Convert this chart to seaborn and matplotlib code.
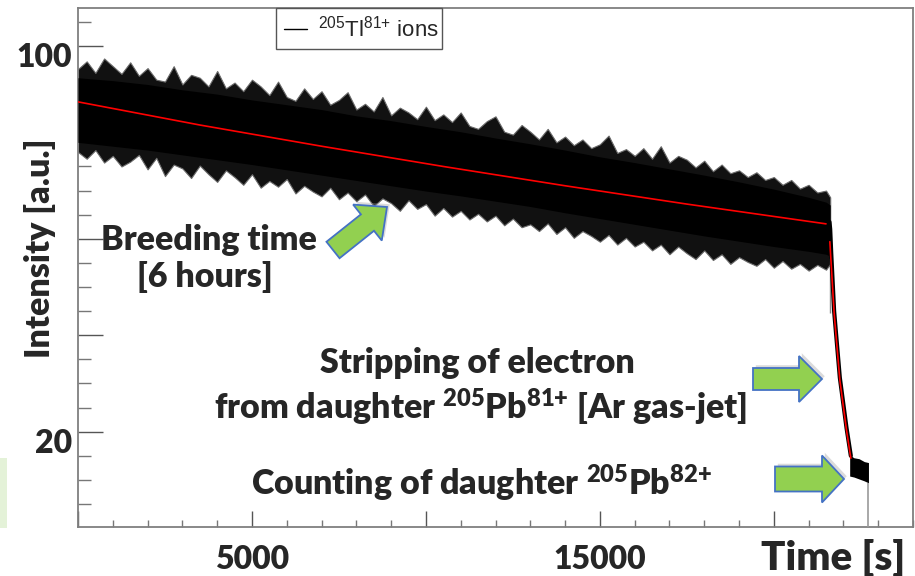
import matplotlib
matplotlib.use("Agg")
import matplotlib.pyplot as plt
import matplotlib.patches as mpatches
import matplotlib.transforms as mtransforms
from matplotlib.lines import Line2D
from matplotlib.ticker import MultipleLocator, FixedLocator, FixedFormatter
import seaborn as sns

# ---------------- data ----------------
# dense core of the 205Tl81+ intensity band
env_t = [0, 1000, 2000, 3000, 4000, 5000, 6000, 7000, 8000, 9000, 10000,
         11000, 12000, 13000, 14000, 15000, 16000, 17000, 18000, 19000,
         20000, 21000, 21500, 21620]
band_top = [93.4, 92.8, 92.0, 90.9, 90.0, 88.8, 87.8, 86.8, 85.5, 84.5, 83.3,
            82.2, 80.9, 79.7, 78.4, 77.0, 75.8, 74.5, 73.2, 71.8,
            70.3, 68.6, 67.6, 67.0]
band_bottom = [80.0, 79.2, 78.4, 77.4, 76.4, 75.4, 74.3, 73.2, 72.1, 71.0, 69.9,
               68.9, 67.8, 66.7, 65.4, 64.2, 63.0, 61.8, 60.6, 59.5,
               58.4, 57.4, 56.8, 56.4]

# ragged edge of the band (fluctuation spikes), every 250 s
edge_t = [0, 250, 500, 750, 1000, 1250, 1500, 1750, 2000, 2250, 2500, 2750,
          3000, 3250, 3500, 3750, 4000, 4250, 4500, 4750, 5000, 5250, 5500,
          5750, 6000, 6250, 6500, 6750, 7000, 7250, 7500, 7750, 8000, 8250,
          8500, 8750, 9000, 9250, 9500, 9750, 10000, 10250, 10500, 10750,
          11000, 11250, 11500, 11750, 12000, 12250, 12500, 12750, 13000,
          13250, 13500, 13750, 14000, 14250, 14500, 14750, 15000, 15250,
          15500, 15750, 16000, 16250, 16500, 16750, 17000, 17250, 17500,
          17750, 18000, 18250, 18500, 18750, 19000, 19250, 19500, 19750,
          20000, 20250, 20500, 20750, 21000, 21250, 21500, 21620]
edge_top = [95.2, 96.8, 94.4, 97.4, 95.8, 94.2, 96.6, 93.8, 95.4, 93.0, 92.6, 95.8,
            92.0, 94.0, 93.4, 91.6, 94.8, 91.2, 92.4, 90.6, 93.0, 91.6, 89.8,
            92.6, 89.4, 88.6, 91.2, 89.0, 90.6, 87.8, 88.8, 90.4, 86.8, 88.0,
            86.4, 89.4, 85.6, 87.2, 86.2, 84.8, 87.4, 84.6, 85.8, 84.2,
            86.2, 83.4, 82.8, 84.4, 85.4, 82.2, 81.6, 83.6, 82.2,
            80.6, 82.8, 80.0, 81.2, 79.4, 80.6, 78.8, 79.6, 81.4,
            77.8, 78.6, 77.2, 78.8, 76.6, 79.2, 75.8, 77.2, 76.4,
            74.8, 76.2, 74.0, 75.4, 73.6, 74.2, 72.8, 73.8, 72.2,
            72.8, 71.2, 72.2, 70.4, 71.2, 69.6, 70.0, 68.6]
edge_bottom = [78.0, 76.6, 78.4, 75.8, 77.2, 75.0, 76.0, 77.4, 74.4, 76.8, 73.0, 75.4,
               74.6, 72.6, 75.2, 73.4, 71.8, 74.2, 72.8, 71.2, 73.4, 70.6, 72.0,
               70.8, 72.4, 69.4, 71.0, 69.8, 68.8, 70.6, 68.2, 69.6, 67.8, 69.2,
               66.8, 68.4, 67.4, 65.8, 68.0, 66.2, 67.2, 64.8, 66.4, 64.6,
               65.8, 64.0, 65.2, 63.6, 64.8, 62.8, 64.2, 62.4, 63.0,
               61.6, 63.2, 61.0, 62.4, 60.2, 61.6, 60.6, 59.4, 60.8,
               58.8, 60.2, 58.4, 59.4, 57.6, 58.8, 56.8, 58.4, 57.0,
               55.8, 57.6, 55.6, 56.8, 54.8, 56.2, 55.2, 54.4, 55.8,
               54.0, 55.4, 53.8, 54.8, 53.4, 54.6, 53.6, 54.8]

# exponential fit during breeding
fit_t = [0, 3500, 7000, 10500, 14000, 17500, 21500]
fit_v = [88.4, 83.6, 79.2, 75.0, 71.0, 67.2, 63.1]

# fast drop while stripping with the gas jet
drop_t = [21600, 21620, 21650, 21733, 21897, 22089, 22213]
drop_v = [63.5, 62.0, 57.0, 45.0, 31.2, 20.8, 15.0]
dropfit_t = [21610, 21733, 21897, 22089, 22213]
dropfit_v = [59.4, 44.6, 30.7, 20.3, 14.5]

# counting of daughter ions
tail_t = [22180, 22300, 22450, 22600, 22720]
tail_top = [15.2, 14.6, 14.4, 13.8, 13.6]
tail_bottom = [10.8, 10.6, 10.2, 9.8, 9.4]
last_bin_t = 22720
last_bin_v = 9.4

x_ticks = [0, 5000, 10000, 15000, 20000]
x_tick_labels = ["", "5000", "", "15000", ""]
y_ticks = [20, 40, 60, 80, 100]
y_tick_labels = ["20", "", "", "", "100"]

legend_label = r"$\mathregular{^{205}Tl^{81{+}}}$ ions"
xlabel = "Time [s]"
ylabel = "Intensity [a.u.]"
notes = [
    ("Breeding time", 209, 250),
    ("[6 hours]", 205, 287),
    ("Stripping of electron", 477, 373),
    (r"from daughter $\mathregular{^{205}Pb^{81{+}}}$ [Ar gas-jet]", 480, 420),
    (r"Counting of daughter $\mathregular{^{205}Pb^{82{+}}}$", 482, 496),
]

# ---------------- figure ----------------
sns.set_style("ticks")
plt.rcParams["font.family"] = ["Lato", "DejaVu Sans"]
plt.rcParams["font.weight"] = "heavy"
WEIGHT = "heavy"

W, H = 915, 576
fig = plt.figure(figsize=(W / 100, H / 100), dpi=100)
fig.patch.set_facecolor("white")
px = mtransforms.Affine2D().scale(1 / W, -1 / H).translate(0, 1) + fig.transFigure

ax = fig.add_axes([78 / W, 1 - 526.7 / H, (913 - 78) / W, (526.7 - 8.3) / H])
ax.set_xlim(0, 24000)
ax.set_ylim(0.3, 107.8)

ax.fill_between(edge_t, edge_bottom, edge_top, color="#111111", lw=0.8,
                edgecolor="#6a6a6a", zorder=2)
ax.fill_between(env_t, band_bottom, band_top, color="black", lw=0, zorder=3)
sns.lineplot(x=drop_t, y=drop_v, color="black", lw=3.0, ax=ax, zorder=3,
             estimator=None, sort=False)
ax.vlines(21600, 44.6, 56.0, color="#8a8a8a", lw=1, zorder=2)
ax.fill_between(tail_t, tail_bottom, tail_top, color="black", lw=0, zorder=3)
ax.vlines(last_bin_t, 0, last_bin_v, color="#9a9a9a", lw=1.2, zorder=3)
sns.lineplot(x=fit_t, y=fit_v, color="#ff0000", lw=1.2, ax=ax, zorder=5,
             estimator=None, sort=False)
sns.lineplot(x=dropfit_t, y=dropfit_v, color="#ff0000", lw=1.2, ax=ax, zorder=5,
             estimator=None, sort=False)

# axes styling
for s in ax.spines.values():
    s.set_color("#7f7f7f")
    s.set_linewidth(1.3)
ax.xaxis.set_major_locator(FixedLocator(x_ticks))
ax.xaxis.set_major_formatter(FixedFormatter(x_tick_labels))
ax.yaxis.set_major_locator(FixedLocator(y_ticks))
ax.yaxis.set_major_formatter(FixedFormatter(y_tick_labels))
ax.xaxis.set_minor_locator(MultipleLocator(1000))
ax.yaxis.set_minor_locator(MultipleLocator(5))
ax.tick_params(axis="y", which="major", direction="in", length=18, width=1,
               color="#555555", labelsize=23, pad=4.3, right=False)
ax.tick_params(axis="y", which="minor", direction="in", length=9.4, width=1,
               color="#777777", right=False)
ax.tick_params(axis="x", which="major", direction="in", length=11.5, width=1,
               color="#555555", labelsize=23, pad=13, top=False)
ax.tick_params(axis="x", which="minor", direction="in", length=5, width=1,
               color="#777777", top=False)
ax.set_xlabel("")
ax.set_ylabel("")
shift = mtransforms.ScaledTranslation(0, -0.09, fig.dpi_scale_trans)
for lbl in ax.get_yticklabels():
    lbl.set_transform(lbl.get_transform() + shift)
    lbl.set_fontweight(WEIGHT)
for lbl in ax.get_xticklabels():
    lbl.set_fontweight(WEIGHT)

# legend
leg = ax.legend(handles=[Line2D([], [], color="black", lw=1)], labels=[legend_label],
                loc="upper left", mode="expand",
                bbox_to_anchor=(276 / W, 1 - 47 / H, 166 / W, 39 / H),
                bbox_transform=fig.transFigure, borderaxespad=0, borderpad=0.35,
                handlelength=1.05, handletextpad=0.5, fancybox=False,
                framealpha=1, edgecolor="#555555",
                prop={"family": "Liberation Sans", "size": 16, "weight": "normal"})
leg.get_frame().set_linewidth(1.0)

# labels
fig.text(905, 570, xlabel, transform=px, ha="right", va="baseline",
         fontsize=29, fontweight=WEIGHT)
fig.text(50, 248, ylabel, transform=px, ha="center", va="baseline",
         rotation=90, rotation_mode="anchor", fontsize=24.5, fontweight=WEIGHT)
for txt, x, y in notes:
    fig.text(x, y, txt, transform=px, ha="center", va="baseline",
             fontsize=24.5, fontweight=WEIGHT)

# green block arrows
def block_arrow(x0, y0, x1, y1, w, hw, hl):
    arr = mpatches.FancyArrow(x0, y0, x1 - x0, y1 - y0, width=w, head_width=hw,
                              head_length=hl, length_includes_head=True,
                              transform=px, facecolor="#92D050",
                              edgecolor="#4472C4", lw=1.3, zorder=10)
    sh = mpatches.Shadow(arr, 2, -2, transform=px)
    sh.set_facecolor("#9a9a9a")
    sh.set_alpha(0.35)
    sh.set_edgecolor("none")
    fig.patches.append(sh)
    fig.patches.append(arr)

block_arrow(333, 250, 387, 207, 21, 46, 25)
block_arrow(753, 379, 822, 379, 22, 46, 23)
block_arrow(775, 479, 844, 479, 25, 47, 22)

# faint cut-off shape at the left border
fig.patches.append(mpatches.Rectangle((0, 458), 7, 70, transform=px,
                                      facecolor="#e4f2d8", edgecolor="none"))

fig.savefig("out.png", dpi=100)
